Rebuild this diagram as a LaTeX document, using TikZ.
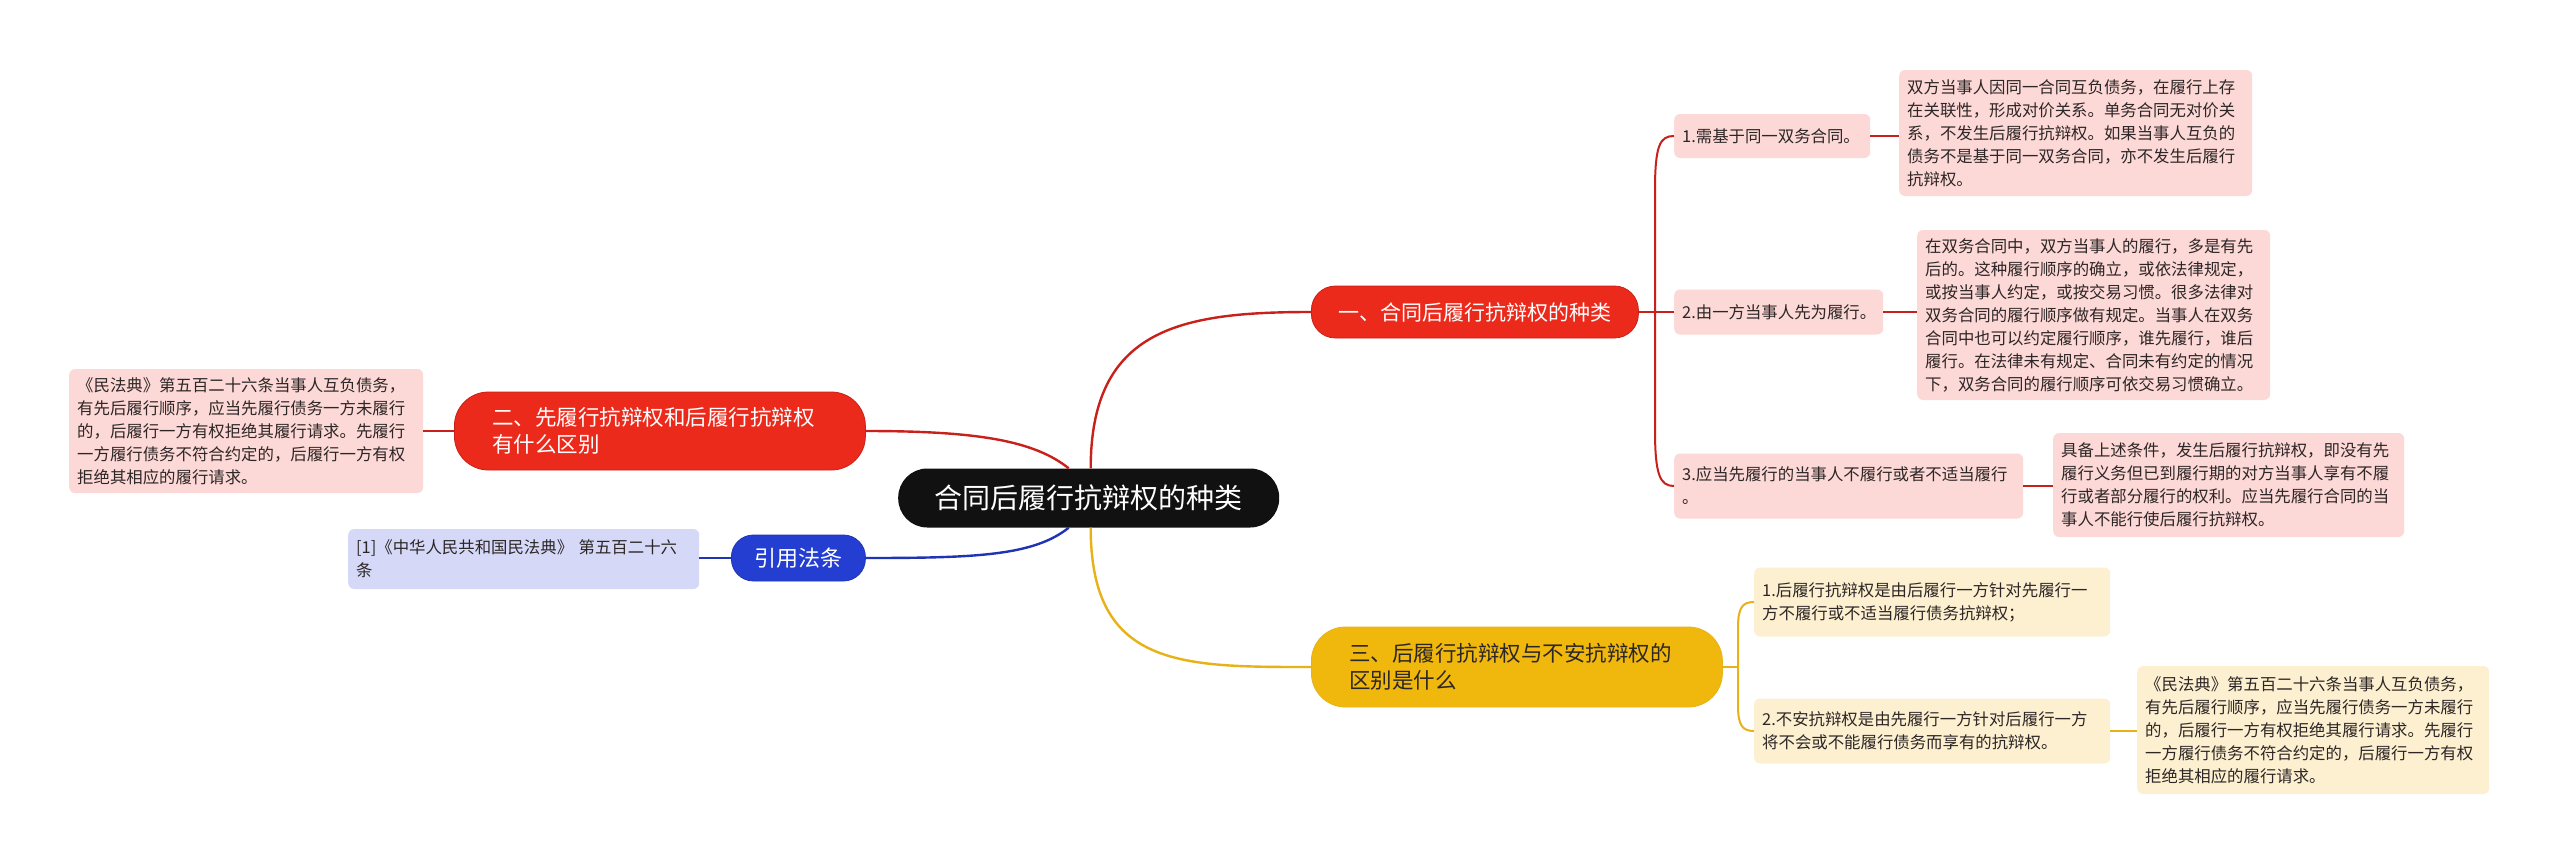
\documentclass[tikz,border=0pt]{standalone}
\usepackage{fontspec}
\setmainfont{Noto Sans CJK SC}
\definecolor{cblack}{RGB}{17,17,17}
\definecolor{cred}{RGB}{236,42,28}
\definecolor{credline}{RGB}{200,32,26}
\definecolor{cblue}{RGB}{36,62,210}
\definecolor{cblueline}{RGB}{30,52,180}
\definecolor{cyellow}{RGB}{240,184,12}
\definecolor{cyellowline}{RGB}{232,178,22}
\definecolor{cpink}{RGB}{252,216,214}
\definecolor{cpaleyellow}{RGB}{252,240,208}
\definecolor{cpaleblue}{RGB}{213,217,247}
\definecolor{ctext}{RGB}{45,38,38}
\begin{document}
\begin{tikzpicture}[x=1pt,y=-1pt,
  smallbox/.style={anchor=west, align=left, rounded corners=6pt, inner xsep=8pt, inner ysep=4pt,
     text=ctext, font=\fontsize{16.4}{23}\selectfont},
  pinkbox/.style={smallbox, fill=cpink},
  yelbox/.style={smallbox, fill=cpaleyellow},
  bluebox/.style={smallbox, fill=cpaleblue},
  rootbox/.style={anchor=west, fill=cblack, text=white, rounded corners=29pt, align=center,
     font=\fontsize{28}{34}\selectfont, minimum width=381pt, minimum height=59pt},
  redbranch/.style={anchor=west, fill=cred, draw=credline, line width=0.8pt, text=white},
  redline/.style={draw=credline, line width=2.4pt},
  redthin/.style={draw=credline, line width=2pt},
  blueline/.style={draw=cblueline, line width=2.4pt},
  yelline/.style={draw=cyellowline, line width=2.4pt},
  yelthin/.style={draw=cyellowline, line width=2pt}
]
\useasboundingbox (0,0) rectangle (2560,865);
\fill[white] (0,0) rectangle (2560,865);

% root
\node[rootbox] (c) at (898,498) {合同后履行抗辩权的种类};

% branches
\node[redbranch, rounded corners=24pt, minimum width=327pt, minimum height=52pt, align=center,
  font=\fontsize{21}{26}\selectfont] (b1) at (1311,312) {一、合同后履行抗辩权的种类};
\node[redbranch, rounded corners=34pt, text width=335pt, inner xsep=38pt, minimum height=78pt, align=left,
  font=\fontsize{21.5}{27}\selectfont] (b2) at (454,431) {二、先履行抗辩权和后履行抗辩权\\有什么区别};
\node[anchor=west, fill=cblue, draw=cblueline, line width=0.8pt, text=white, rounded corners=22pt,
  minimum width=134pt, minimum height=46pt, align=center,
  font=\fontsize{22}{26}\selectfont] (b3) at (731,558) {引用法条};
\node[anchor=west, fill=cyellow, draw=cyellowline, line width=0.8pt, text=ctext, rounded corners=34pt,
  text width=335pt, inner xsep=38pt, minimum height=80pt, align=left,
  font=\fontsize{21.5}{27}\selectfont] (b4) at (1311,667) {三、后履行抗辩权与不安抗辩权的\\区别是什么};

% branch 1 leaves
\node[pinkbox, text width=180pt, minimum height=44pt] (l11) at (1674,136) {1.需基于同一双务合同。};
\node[pinkbox, text width=193pt, minimum height=45pt] (l12) at (1674,312) {2.由一方当事人先为履行。};
\node[pinkbox, text width=333pt, minimum height=65pt] (l13) at (1674,486) {3.应当先履行的当事人不履行或者不适当履行\\。};

\node[pinkbox, text width=337pt, minimum height=126pt] (d11) at (1899,133) {双方当事人因同一合同互负债务，在履行上存\\在关联性，形成对价关系。单务合同无对价关\\系，不发生后履行抗辩权。如果当事人互负的\\债务不是基于同一双务合同，亦不发生后履行\\抗辩权。};
\node[pinkbox, text width=337pt, minimum height=170pt] (d12) at (1917,315) {在双务合同中，双方当事人的履行，多是有先\\后的。这种履行顺序的确立，或依法律规定，\\或按当事人约定，或按交易习惯。很多法律对\\双务合同的履行顺序做有规定。当事人在双务\\合同中也可以约定履行顺序，谁先履行，谁后\\履行。在法律未有规定、合同未有约定的情况\\下，双务合同的履行顺序可依交易习惯确立。};
\node[pinkbox, text width=335pt, minimum height=104pt] (d13) at (2053,485) {具备上述条件，发生后履行抗辩权，即没有先\\履行义务但已到履行期的对方当事人享有不履\\行或者部分履行的权利。应当先履行合同的当\\事人不能行使后履行抗辩权。};

% branch 2 detail
\node[pinkbox, text width=338pt, minimum height=124pt] (d2) at (69,431) {《民法典》第五百二十六条当事人互负债务，\\有先后履行顺序，应当先履行债务一方未履行\\的，后履行一方有权拒绝其履行请求。先履行\\一方履行债务不符合约定的，后履行一方有权\\拒绝其相应的履行请求。};

% branch 3 detail
\node[bluebox, text width=335pt, minimum height=60pt] (d3) at (348,559) {[1]《中华人民共和国民法典》 第五百二十六\\条};

% branch 4 leaves
\node[yelbox, text width=340pt, minimum height=69pt] (l41) at (1754,602) {1.后履行抗辩权是由后履行一方针对先履行一\\方不履行或不适当履行债务抗辩权；};
\node[yelbox, text width=340pt, minimum height=65pt] (l42) at (1754,731) {2.不安抗辩权是由先履行一方针对后履行一方\\将不会或不能履行债务而享有的抗辩权。};
\node[yelbox, text width=336pt, minimum height=128pt] (d42) at (2137,730) {《民法典》第五百二十六条当事人互负债务，\\有先后履行顺序，应当先履行债务一方未履行\\的，后履行一方有权拒绝其履行请求。先履行\\一方履行债务不符合约定的，后履行一方有权\\拒绝其相应的履行请求。};

% main connectors
\draw[redline] ([xshift=2pt]c.north) .. controls +(0,-140) and +(-130,0) .. (b1.west);
\draw[redline] (b2.east) .. controls +(110,0) and +(-35,-28) .. ([xshift=-20pt]c.north);
\draw[blueline] (b3.east) .. controls +(110,0) and +(-35,28) .. ([xshift=-20pt]c.south);
\draw[yelline] ([xshift=2pt]c.south) .. controls +(0,140) and +(-130,0) .. (b4.west);

% branch 1 bracket
\coordinate (h1) at (1655,312);
\draw[redthin] (b1.east) -- (l12.west);
\draw[redthin] (h1) -- (1655,190) .. controls (1655,145) and (1660,136) .. (l11.west);
\draw[redthin] (h1) -- (1655,430) .. controls (1655,475) and (1660,486) .. (l13.west);
\draw[redthin] (l11.east) -- (l11.east -| d11.west);
\draw[redthin] (l12.east) -- (l12.east -| d12.west);
\draw[redthin] (l13.east) -- (l13.east -| d13.west);

% branch 2 / 3 details
\draw[redthin] (b2.west) -- (b2.west -| d2.east);
\draw[draw=cblueline, line width=2pt] (b3.west) -- (b3.west -| d3.east);

% branch 4 bracket
\coordinate (h4) at (1738,667);
\draw[yelthin] (b4.east) -- (h4);
\draw[yelthin] (h4) -- (1738,628) .. controls (1738,608) and (1742,602) .. (l41.west);
\draw[yelthin] (h4) -- (1738,705) .. controls (1738,725) and (1742,731) .. (l42.west);
\draw[yelthin] (l42.east) -- (l42.east -| d42.west);
\end{tikzpicture}
\end{document}
